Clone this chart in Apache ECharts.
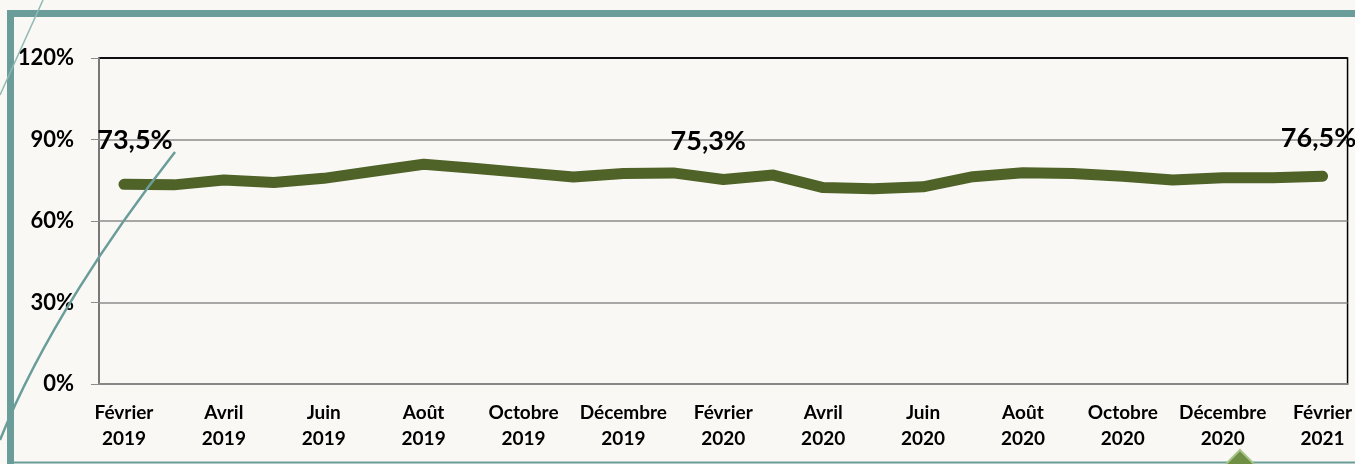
<!DOCTYPE html>
<html>
<head>
<meta charset="utf-8">
<script src="https://cdn.jsdelivr.net/npm/echarts@6/dist/echarts.min.js"></script>
<style>
  html, body { margin: 0; padding: 0; background: #f9f8f4; }
  #chart { width: 1355px; height: 464px; }
</style>
</head>
<body>
<div id="chart"></div>
<script>
  // mois (un point par mois, étiquette tous les deux mois)
  var months = ['Février\n2019','Mars\n2019','Avril\n2019','Mai\n2019','Juin\n2019','Juillet\n2019',
    'Août\n2019','Septembre\n2019','Octobre\n2019','Novembre\n2019','Décembre\n2019','Janvier\n2020',
    'Février\n2020','Mars\n2020','Avril\n2020','Mai\n2020','Juin\n2020','Juillet\n2020',
    'Août\n2020','Septembre\n2020','Octobre\n2020','Novembre\n2020','Décembre\n2020','Janvier\n2021',
    'Février\n2021']
  // taux en %
  var rates = [73.5, 73.3, 75.1, 74.2, 75.7, 78.3, 80.9, 79.4, 77.8, 76.2, 77.5, 77.7,
    75.3, 76.9, 72.3, 71.9, 72.6, 76.3, 77.8, 77.5, 76.5, 75.1, 75.9, 75.9, 76.5]
  var labelled = [0, 12, 24]   // points étiquetés
  var labelShift = { 0: [11, -6], 12: [-15, 0], 24: [-4, 0] }
  var yTicks = [0, 30, 60, 90, 120]

  var teal = '#6a9d9a'
  var seriesData = rates.map(function (v, i) {
    var d = { value: v }
    if (labelled.indexOf(i) >= 0) {
      d.label = {
        show: true,
        position: 'top',
        distance: 24,
        offset: labelShift[i],
        formatter: function (p) { return p.value.toFixed(1).replace('.', ',') + '%' },
        fontFamily: 'Lato',
        fontWeight: 'bold',
        fontSize: 27,
        color: '#000'
      }
    }
    return d
  })

  var myChart = echarts.init(document.getElementById('chart'))
  var option = {
    backgroundColor: '#f9f8f4',
    animation: false,
    grid: {
      left: 99, right: 4, top: 58, bottom: 80,
      show: true, borderColor: '#000', borderWidth: 1.5,
      backgroundColor: 'transparent'
    },
    xAxis: {
      type: 'category',
      data: months,
      boundaryGap: true,
      axisLine: { lineStyle: { color: '#8c8c8c', width: 1.5 } },
      axisTick: { interval: 0, length: 5, lineStyle: { color: '#8c8c8c' } },
      axisLabel: {
        interval: 1,
        margin: 16,
        fontFamily: 'Lato',
        fontWeight: 'bold',
        fontSize: 19,
        lineHeight: 26,
        color: '#000'
      }
    },
    yAxis: {
      type: 'value',
      min: yTicks[0],
      max: yTicks[yTicks.length - 1],
      interval: 30,
      axisLine: { show: true, lineStyle: { color: '#8c8c8c', width: 1.5 } },
      axisTick: { show: true, length: 8, lineStyle: { color: '#8c8c8c' } },
      splitLine: { lineStyle: { color: ['#8c8c8c', '#8c8c8c', '#8c8c8c', '#8c8c8c', '#000'], width: 1.5 } },
      axisLabel: {
        margin: 25,
        formatter: '{value}%',
        fontFamily: 'Lato',
        fontWeight: 'bold',
        fontSize: 22,
        color: '#000'
      }
    },
    series: [{
      type: 'line',
      data: seriesData,
      symbol: 'circle',
      symbolSize: 1,
      showSymbol: true,
      itemStyle: { color: '#4f6228' },
      lineStyle: { color: '#4f6228', width: 11, cap: 'round', join: 'round' },
      z: 3
    }],
    graphic: [
      // cadre décoratif
      { type: 'rect', shape: { x: 7, y: 10, width: 1348, height: 7 }, style: { fill: teal }, z: 10 },
      { type: 'rect', shape: { x: 7, y: 10, width: 7, height: 454 }, style: { fill: teal }, z: 10 },
      { type: 'line', shape: { x1: 7, y1: 462.5, x2: 1355, y2: 462.5 }, style: { stroke: teal, lineWidth: 2 }, z: 10 },
      { type: 'line', shape: { x1: 43, y1: 0, x2: 0, y2: 95 }, style: { stroke: '#8fb8b5', lineWidth: 1.5 }, z: 10 },
      { type: 'bezierCurve', shape: { x1: 175, y1: 152, cpx1: 110, cpy1: 235, cpx2: 40, cpy2: 340, x2: 0, y2: 440 },
        style: { stroke: teal, lineWidth: 2.5, fill: null }, z: 10 },
      { type: 'polygon', shape: { points: [[1240, 450], [1258, 468], [1240, 486], [1222, 468]] },
        style: { fill: '#6f8f45', stroke: '#a9c38a', lineWidth: 2 }, z: 10 }
    ]
  }
  myChart.setOption(option)
  window.addEventListener('resize', function () { myChart.resize() })
</script>
</body>
</html>
